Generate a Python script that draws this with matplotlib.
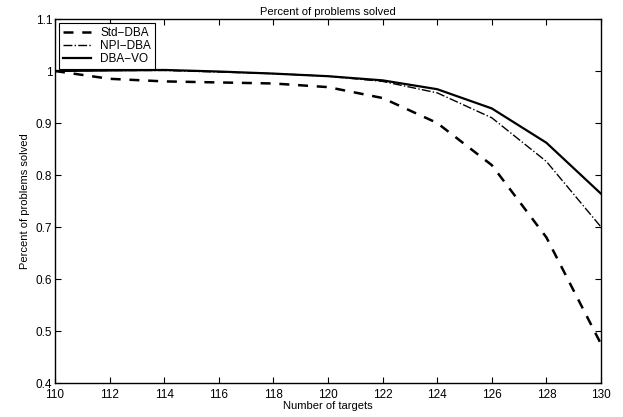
import matplotlib
matplotlib.use('Agg')
import matplotlib.pyplot as plt

plt.rcParams['font.family'] = ['Liberation Sans', 'DejaVu Sans']

# data
targets = [110, 112, 114, 116, 118, 120, 122, 124, 126, 128, 130]
std_dba = [1.0, 0.985, 0.980, 0.978, 0.976, 0.969, 0.948, 0.900, 0.819, 0.680, 0.475]
npi_dba = [1.0, 1.001, 1.001, 0.998, 0.995, 0.990, 0.980, 0.958, 0.910, 0.826, 0.700]
dba_vo = [1.0, 1.001, 1.002, 0.999, 0.995, 0.990, 0.982, 0.965, 0.928, 0.862, 0.764]

fig = plt.figure(figsize=(6.23, 4.17), dpi=100)
ax = fig.add_axes([55/623, 1-383/417, 546/623, 364/417])

ax.plot(targets, std_dba, 'k--', lw=1.8, label='Std\u2212DBA', dashes=(4, 3.5))
ax.plot(targets, npi_dba, 'k-.', lw=1.0, label='NPI\u2212DBA')
ax.plot(targets, dba_vo, 'k-', lw=1.6, label='DBA\u2212VO')

ax.set_xlim(110, 130)
ax.set_ylim(0.4, 1.1)
ax.set_xticks(range(110, 131, 2))
ax.set_yticks([0.4, 0.5, 0.6, 0.7, 0.8, 0.9, 1.0, 1.1])
ax.set_yticklabels(['0.4', '0.5', '0.6', '0.7', '0.8', '0.9', '1', '1.1'])
ax.tick_params(direction='in', top=True, right=True, labelsize=8.5, length=4, width=0.8, pad=2)
ax.tick_params(axis='x', pad=4)
for s in ax.spines.values():
    s.set_linewidth(1.0)

ax.set_title('Percent of problems solved', fontsize=8, pad=3)
ax.set_xlabel('Number of targets', fontsize=8, labelpad=0)
ax.set_ylabel('Percent of problems solved', fontsize=8, labelpad=4)

leg = ax.legend(loc='upper left', fontsize=8.5, fancybox=False, edgecolor='black',
                framealpha=1, borderaxespad=0.35, handlelength=2.4, borderpad=0.3,
                labelspacing=0.1)
leg.get_frame().set_linewidth(0.8)

plt.savefig('out.png', dpi=100)
